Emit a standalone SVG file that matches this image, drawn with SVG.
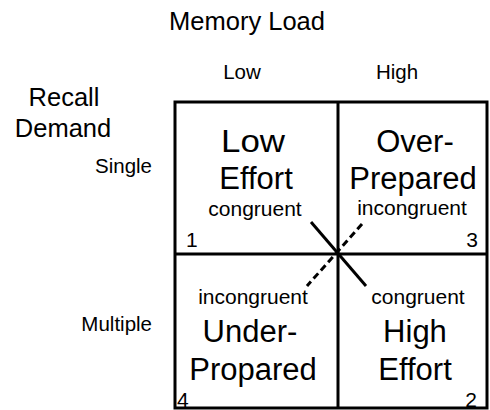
<svg xmlns="http://www.w3.org/2000/svg" width="490" height="410" viewBox="0 0 490 410">
  <style>
    text { font-family: "Liberation Sans", Arial, sans-serif; fill: #000; }
    .axis { font-size: 25.5px; text-anchor: middle; }
    .lvl { font-size: 20.5px; }
    .mid { text-anchor: middle; }
    .end { text-anchor: end; }
    .title { font-size: 31px; text-anchor: middle; }
    .sub { font-size: 21px; text-anchor: middle; }
    .num { font-size: 21px; }
    .grid { fill: none; stroke: #000; stroke-width: 3; }
    .solid { stroke: #000; stroke-width: 3; }
    .dash { stroke: #000; stroke-width: 3; stroke-dasharray: 7 4; }
  </style>

  <!-- axis headings -->
  <g id="axes">
    <text class="axis" x="247" y="30">Memory Load</text>
    <text class="lvl mid" x="242" y="79">Low</text>
    <text class="lvl mid" x="397" y="79">High</text>
    <text class="axis" x="64" y="106">Recall</text>
    <text class="axis" x="63" y="137">Demand</text>
    <text class="lvl end" x="152" y="173">Single</text>
    <text class="lvl end" x="152" y="331">Multiple</text>
  </g>

  <!-- 2x2 grid -->
  <g id="grid">
    <rect class="grid" x="175" y="102" width="312" height="306"/>
    <line class="grid" x1="338" y1="102" x2="338" y2="408"/>
    <line class="grid" x1="175" y1="254" x2="487" y2="254"/>
  </g>

  <g id="q1">
    <text class="title" x="253" y="152" textLength="64" lengthAdjust="spacingAndGlyphs">Low</text>
    <text class="title" x="256" y="189">Effort</text>
    <text class="sub" x="255" y="216">congruent</text>
    <text class="num" x="186" y="247">1</text>
  </g>

  <g id="q3">
    <text class="title" x="415" y="152">Over-</text>
    <text class="title" x="413" y="189">Prepared</text>
    <text class="sub" x="412" y="215">incongruent</text>
    <text class="num end" x="478" y="247">3</text>
  </g>

  <g id="q4">
    <text class="sub" x="253" y="304">incongruent</text>
    <text class="title" x="250" y="342">Under-</text>
    <text class="title" x="253" y="380">Propared</text>
    <text class="num" x="177" y="407">4</text>
  </g>

  <g id="q2">
    <text class="sub" x="418" y="304">congruent</text>
    <text class="title" x="415" y="342">High</text>
    <text class="title" x="415" y="380">Effort</text>
    <text class="num end" x="477" y="407">2</text>
  </g>

  <!-- diagonal connectors through the centre -->
  <g id="connectors">
    <line class="solid" x1="311" y1="222" x2="366" y2="286"/>
    <line class="dash" x1="362" y1="224" x2="307" y2="286"/>
  </g>
</svg>
